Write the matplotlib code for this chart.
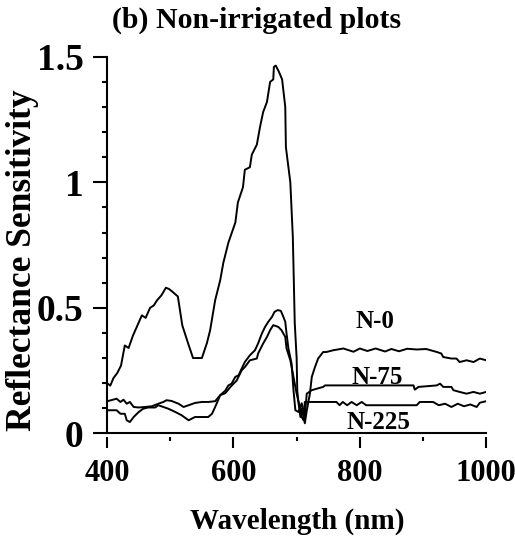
import matplotlib
matplotlib.use("Agg")
import matplotlib.pyplot as plt
from matplotlib.ticker import MultipleLocator

# Reflectance sensitivity, wavelength in nm
n0_wl = [400, 405, 410, 416, 422, 428, 434, 441, 448, 455, 461, 468, 474,
         479, 486, 493, 498, 503, 512, 519, 528, 536, 550, 558, 563, 571,
         579, 584, 592, 603, 607, 615, 618, 626, 629, 637, 642, 647, 653,
         658, 663, 664, 667, 672, 677, 682, 683, 690, 694, 697, 700, 701,
         703, 706, 708, 713, 716, 721, 724, 729, 734, 742, 747, 758, 774,
         790, 800, 812, 825, 840, 850, 862, 875, 890, 905, 922, 929, 932,
         945, 953, 958, 969, 980, 990, 1000]
n0_val = [0.20, 0.19, 0.22, 0.24, 0.27, 0.35, 0.34, 0.39, 0.43, 0.47,
          0.46, 0.50, 0.51, 0.53, 0.55, 0.58, 0.575, 0.565, 0.545, 0.43,
          0.36, 0.30, 0.30, 0.36, 0.41, 0.53, 0.61, 0.68, 0.76, 0.84,
          0.92, 0.98, 1.05, 1.06, 1.11, 1.15, 1.22, 1.28, 1.32, 1.40,
          1.41, 1.46, 1.465, 1.44, 1.41, 1.30, 1.14, 1.00, 0.78, 0.44,
          0.30, 0.17, 0.12, 0.065, 0.10, 0.04, 0.09, 0.158, 0.225, 0.264,
          0.298, 0.324, 0.324, 0.331, 0.338, 0.325, 0.338, 0.328, 0.338,
          0.326, 0.336, 0.327, 0.337, 0.334, 0.336, 0.324, 0.318, 0.304,
          0.298, 0.298, 0.284, 0.291, 0.284, 0.298, 0.291]

n75_wl = [400, 402, 415, 421, 426, 431, 436, 442, 450, 460, 471, 481, 489,
          494, 502, 513, 521, 529, 539, 550, 560, 571, 579, 587, 592, 597,
          603, 608, 613, 618, 626, 634, 639, 645, 650, 655, 661, 665, 670,
          675, 679, 682, 684, 687, 692, 695, 698, 703, 708, 713, 716, 724,
          742, 745, 770, 800, 830, 860, 885, 887, 893, 922, 927, 932, 945,
          948, 958, 969, 980, 990, 1000]
n75_val = [0.13, 0.129, 0.138, 0.125, 0.134, 0.118, 0.125, 0.105, 0.103,
           0.105, 0.108, 0.118, 0.125, 0.132, 0.129, 0.118, 0.105, 0.112,
           0.121, 0.125, 0.125, 0.128, 0.152, 0.17, 0.191, 0.198, 0.225,
           0.231, 0.258, 0.284, 0.311, 0.331, 0.358, 0.398, 0.424, 0.444,
           0.464, 0.484, 0.491, 0.488, 0.464, 0.444, 0.398, 0.338, 0.278,
           0.172, 0.092, 0.085, 0.12, 0.07, 0.158, 0.172, 0.185, 0.191,
           0.191, 0.191, 0.191, 0.191, 0.191, 0.174, 0.185, 0.191, 0.198,
           0.185, 0.185, 0.172, 0.165, 0.158, 0.165, 0.158, 0.165]

n225_wl = [400, 402, 415, 421, 428, 431, 436, 442, 450, 457, 465, 476, 481,
           489, 497, 508, 518, 529, 539, 550, 560, 566, 571, 579, 587, 597,
           605, 613, 618, 626, 637, 639, 647, 653, 658, 663, 671, 676, 682,
           684, 690, 695, 700, 705, 708, 711, 713, 720, 740, 763, 768, 773,
           780, 787, 795, 803, 810, 820, 860, 890, 895, 916, 925, 935, 945,
           955, 965, 975, 985, 990, 1000]
n225_val = [0.09, 0.092, 0.092, 0.078, 0.078, 0.052, 0.045, 0.065, 0.085,
            0.098, 0.103, 0.103, 0.112, 0.105, 0.098, 0.085, 0.072, 0.052,
            0.065, 0.065, 0.065, 0.078, 0.105, 0.152, 0.16, 0.19, 0.21,
            0.251, 0.264, 0.291, 0.298, 0.318, 0.358, 0.384, 0.411, 0.431,
            0.424, 0.411, 0.384, 0.338, 0.291, 0.225, 0.158, 0.105, 0.065,
            0.052, 0.125, 0.125, 0.125, 0.125, 0.112, 0.125, 0.112, 0.125,
            0.112, 0.125, 0.112, 0.112, 0.112, 0.112, 0.125, 0.125, 0.112,
            0.118, 0.105, 0.118, 0.108, 0.115, 0.105, 0.122, 0.128]

series_labels = ["N-0", "N-75", "N-225"]
label_pos = [(824, 0.446), (827, 0.223), (829, 0.044)]

plt.rcParams["font.family"] = ["Liberation Serif", "DejaVu Serif"]
plt.rcParams["font.weight"] = "bold"

fig = plt.figure(figsize=(5.15, 5.41), dpi=100)
ax = fig.add_axes([0.208, 0.199, 0.736, 0.696])

for wl, val in [(n0_wl, n0_val), (n75_wl, n75_val), (n225_wl, n225_val)]:
    ax.plot(wl, val, color="black", linewidth=1.4)

for text, (x, y) in zip(series_labels, label_pos):
    ax.text(x, y, text, ha="center", va="center", fontsize=18,
            fontweight="bold")

ax.set_xlim(400, 1000)
ax.set_ylim(0, 1.5)
ax.xaxis.set_major_locator(MultipleLocator(200))
ax.xaxis.set_minor_locator(MultipleLocator(100))
ax.yaxis.set_minor_locator(MultipleLocator(0.1))
ax.set_yticks([0, 0.5, 1, 1.5])
ax.set_yticklabels(["0", "0.5", "1", "1.5"])

for side in ["top", "right"]:
    ax.spines[side].set_visible(False)
ax.spines["left"].set_linewidth(1.5)
# bottom ticks sit a little below the axis line
ax.spines["bottom"].set_position(("outward", 2.5))
ax.spines["bottom"].set_visible(False)
ax.axhline(0, color="black", linewidth=1.5, clip_on=False)

ax.tick_params(axis="y", which="major", direction="out", length=10,
               width=1.5, pad=7, labelsize=27)
ax.tick_params(axis="y", which="minor", direction="out", length=3.6,
               width=1.5)
ax.tick_params(axis="x", which="major", direction="out", length=8,
               width=1.5, pad=8, labelsize=22)
ax.tick_params(axis="x", which="minor", direction="out", length=3,
               width=1.5)

fig.text(0.499, 0.962, "(b) Non-irrigated plots", ha="center",
         va="center", fontsize=21.5, fontweight="bold")
fig.text(0.577, 0.037, "Wavelength (nm)", ha="center", va="center",
         fontsize=21, fontweight="bold")
fig.text(0.043, 0.519, "Reflectance Sensitivity", ha="center",
         va="center", rotation=90, fontsize=25.5, fontweight="bold")

fig.savefig("out.png", dpi=100)
plt.close(fig)
